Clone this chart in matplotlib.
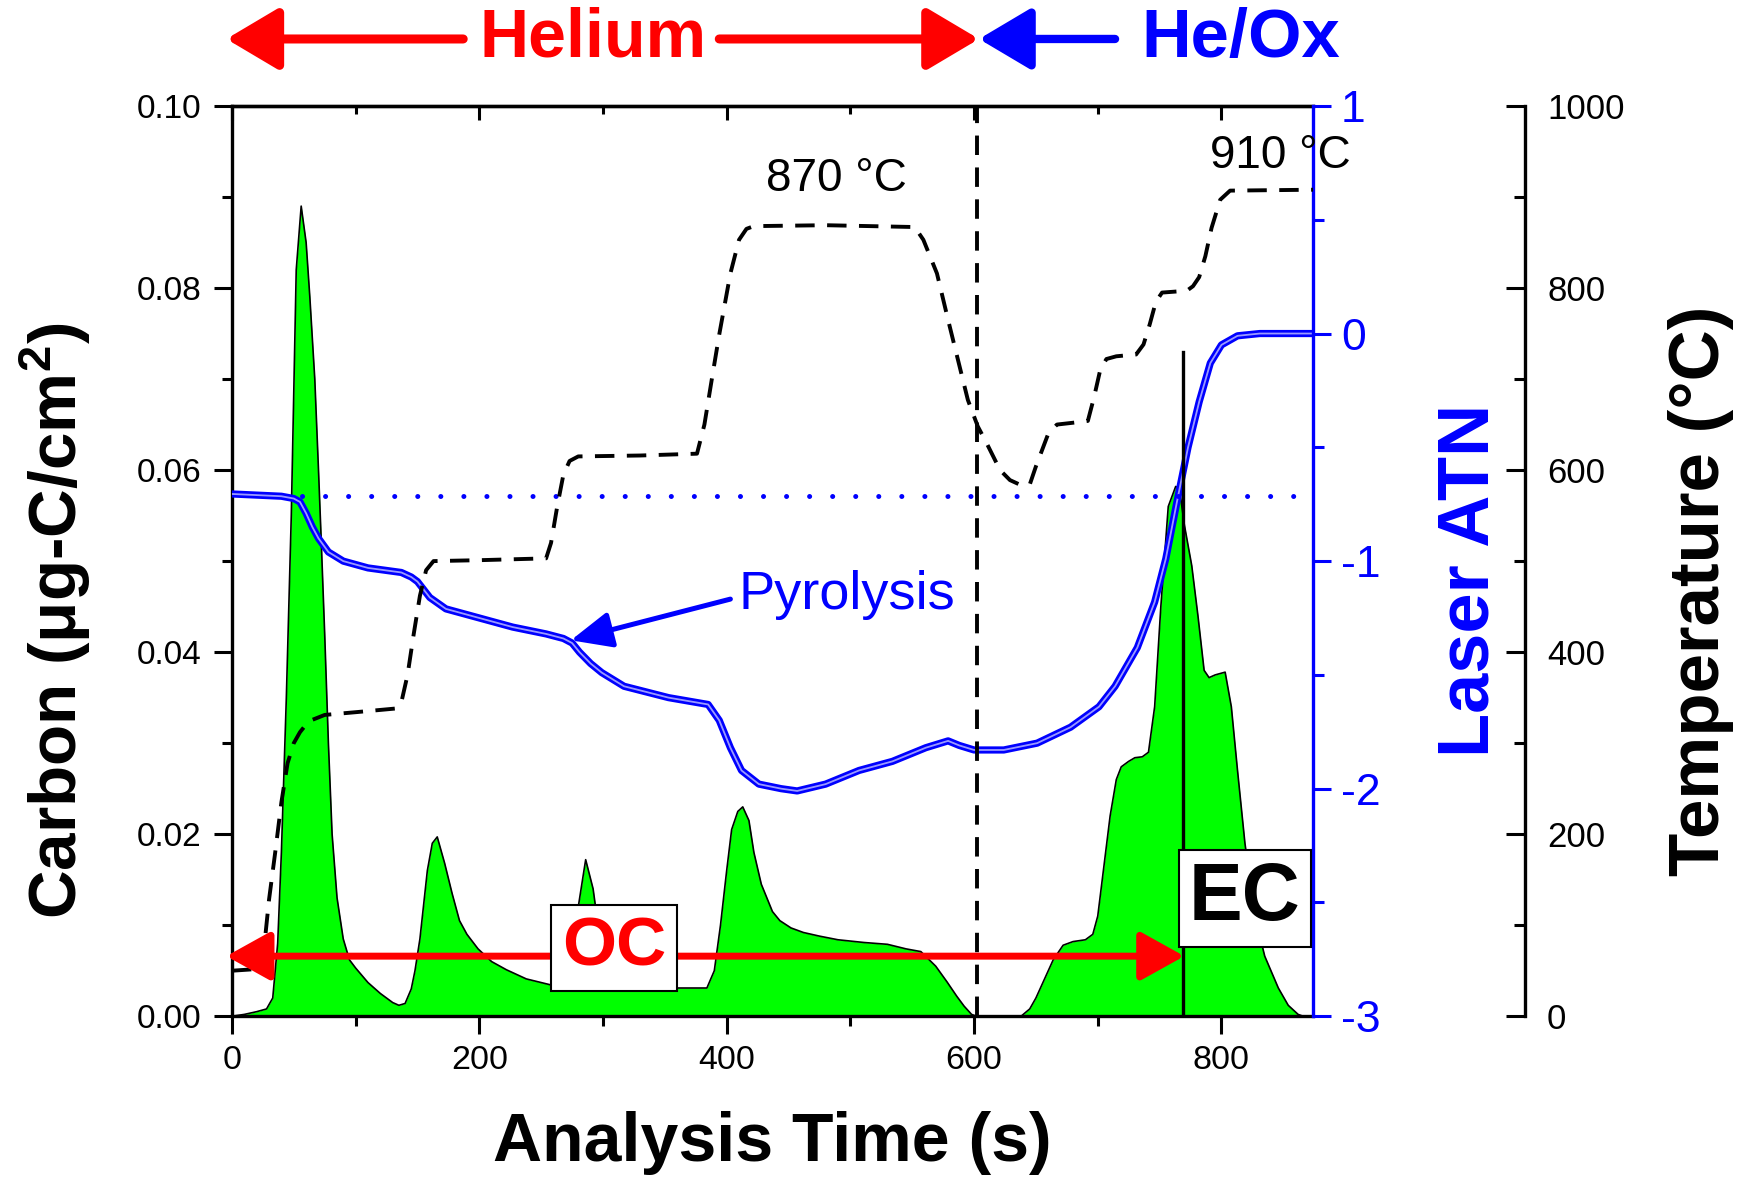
import numpy as np
import matplotlib.pyplot as plt
from matplotlib.ticker import MultipleLocator, FormatStrFormatter

plt.rcParams['font.family'] = 'Liberation Sans'
plt.rcParams['mathtext.fontset'] = 'custom'
plt.rcParams['mathtext.rm'] = 'Liberation Sans'
plt.rcParams['mathtext.bf'] = 'Liberation Sans:bold'
plt.rcParams['axes.unicode_minus'] = False

# FID carbon signal (ug-C/cm2) vs analysis time (s)
time_c = [0, 10, 20, 28, 33, 37, 40, 44, 48, 52, 56, 60, 63, 67, 70, 72, 75, 78, 81, 85,
          90, 95, 100, 110, 120, 130, 135, 140, 145, 148, 152, 158, 162, 166, 172, 178, 184,
          190, 199, 210, 222, 238, 259, 270, 276, 280, 286, 292, 298, 305, 330, 360, 384,
          390, 395, 400, 404, 409, 413, 418, 422, 428, 437, 443, 452, 462, 475, 490, 511,
          530, 545, 557, 569, 578, 586, 592, 598, 602, 638, 645, 650, 656, 664, 672, 680,
          690, 696, 700, 705, 710, 715, 719, 725, 730, 736, 741, 746, 751, 757, 763, 766,
          770, 776, 781, 786, 790, 795, 803, 808, 813, 819, 827, 835, 846, 854, 862, 866]
carbon = [0, 0.0002, 0.0005, 0.0008, 0.002, 0.008, 0.018, 0.035, 0.055, 0.082, 0.089,
          0.085, 0.079, 0.070, 0.060, 0.053, 0.042, 0.030, 0.020, 0.013, 0.0085, 0.0062,
          0.0053, 0.0037, 0.0025, 0.0015, 0.0012, 0.0014, 0.003, 0.005, 0.0085, 0.016,
          0.019, 0.0197, 0.0168, 0.0135, 0.0105, 0.009, 0.0074, 0.006, 0.0051, 0.0041,
          0.0034, 0.0035, 0.007, 0.012, 0.0172, 0.014, 0.008, 0.0045, 0.0034, 0.0031,
          0.0031, 0.005, 0.010, 0.016, 0.0205, 0.0225, 0.023, 0.0215, 0.018, 0.0145,
          0.0115, 0.0105, 0.0097, 0.0092, 0.0088, 0.0084, 0.0081, 0.0079, 0.0074, 0.0071,
          0.0055, 0.0038, 0.0022, 0.0011, 0.0002, 0, 0, 0.0008, 0.002, 0.0038, 0.0062,
          0.0078, 0.0082, 0.0084, 0.009, 0.011, 0.0165, 0.022, 0.026, 0.0274, 0.028,
          0.0284, 0.0285, 0.029, 0.034, 0.045, 0.056, 0.0582, 0.058, 0.054, 0.0495, 0.044,
          0.038, 0.0372, 0.0375, 0.0378, 0.034, 0.027, 0.019, 0.011, 0.0066, 0.0031,
          0.0012, 0.0002, 0]

# laser attenuation
time_atn = [0, 20, 40, 50, 55, 60, 65, 70, 78, 90, 110, 137, 145, 150, 160, 173, 200,
            227, 254, 268, 275, 281, 290, 299, 317, 353, 385, 394, 403, 412, 426, 444,
            457, 480, 507, 534, 561, 579, 588, 600, 624, 651, 678, 701, 714, 732, 746,
            755, 764, 773, 782, 791, 800, 813, 831, 874]
atn = [-0.705, -0.71, -0.715, -0.725, -0.74, -0.79, -0.85, -0.9, -0.96, -1.0, -1.03,
       -1.05, -1.07, -1.09, -1.16, -1.21, -1.25, -1.29, -1.32, -1.34, -1.36, -1.40,
       -1.45, -1.49, -1.55, -1.60, -1.63, -1.70, -1.82, -1.92, -1.98, -2.0, -2.01,
       -1.98, -1.92, -1.88, -1.82, -1.79, -1.81, -1.83, -1.83, -1.80, -1.73, -1.64,
       -1.55, -1.38, -1.18, -0.99, -0.74, -0.50, -0.30, -0.13, -0.05, -0.01, 0.0, 0.0]
atn_initial = -0.716
atn_line_span = [57, 860]

# oven temperature
time_temp = [0, 22, 26, 30, 35, 40, 45, 50, 55, 62, 75, 100, 132, 137, 142, 147, 152,
             157, 163, 200, 254, 258, 263, 268, 273, 280, 330, 376, 382, 388, 394, 403,
             410, 416, 422, 480, 552, 559, 570, 579, 587, 595, 603, 610, 621, 629, 637,
             645, 650, 655, 660, 667, 680, 692, 697, 702, 707, 715, 731, 737, 742, 747,
             752, 772, 777, 782, 787, 792, 799, 807, 875]
temperature = [50, 52, 75, 128, 180, 235, 278, 300, 312, 324, 331, 334, 338, 345, 375,
               420, 462, 490, 500, 501, 503, 520, 560, 595, 610, 615, 616, 618, 650, 700,
               749, 816, 853, 865, 868, 869, 867, 853, 816, 765, 721, 677, 648, 630, 600,
               589, 584, 584, 604, 622, 640, 650, 652, 654, 680, 710, 722, 725, 727, 738,
               760, 785, 795, 797, 802, 812, 835, 866, 897, 907, 908]

he_ox_switch = 602
ec_split = 769
ec_split_top = 0.073

fig = plt.figure(figsize=(17.49, 11.84), dpi=100)
ax = fig.add_axes([0.1326, 0.1417, 0.6181, 0.7688])
ax2 = ax.twinx()
ax3 = ax.twinx()

# carbon signal
ax.fill_between(time_c, carbon, color='#00ff00', lw=0)
ax.plot(time_c, carbon, color='black', lw=1.2)

# laser ATN (hollow-circle look)
ax2.plot(time_atn, atn, color='blue', lw=5.2, solid_capstyle='round')
ax2.plot(time_atn, atn, color='#9a9aff', lw=1.3)
ax2.plot(atn_line_span, [atn_initial, atn_initial], color='blue', lw=3.6,
         ls=(0, (0.01, 4.6)), dash_capstyle='round')

# temperature
dash = (0, (5, 3.2))
ax3.plot(time_temp, temperature, color='black', lw=2.8, ls=dash)
ax3.axvline(he_ox_switch, color='black', lw=2.8, ls=dash)
ax3.plot([ec_split, ec_split], [0, ec_split_top], color='black', lw=2.4,
         transform=ax.transData)

ax.set_xlim(0, 874)
ax.set_ylim(0, 0.1)
ax2.set_ylim(-3, 1)
ax3.set_ylim(0, 1000)

# spines
for s in ['left', 'bottom', 'top']:
    ax.spines[s].set_linewidth(2.4)
ax.spines['right'].set_visible(False)
for a in [ax2, ax3]:
    for s in ['left', 'bottom', 'top']:
        a.spines[s].set_visible(False)
ax2.spines['right'].set_color('blue')
ax2.spines['right'].set_linewidth(2.4)
ax3.spines['right'].set_position(('axes', 1.196))
ax3.spines['right'].set_linewidth(2.4)

# ticks
ax.xaxis.set_major_locator(MultipleLocator(200))
ax.xaxis.set_minor_locator(MultipleLocator(100))
ax.yaxis.set_major_locator(MultipleLocator(0.02))
ax.yaxis.set_minor_locator(MultipleLocator(0.01))
ax.yaxis.set_major_formatter(FormatStrFormatter('%.2f'))
ax.tick_params(which='major', direction='out', length=13, width=2.2)
ax.tick_params(which='minor', direction='out', length=7, width=2.2)
ax.tick_params(axis='x', pad=8, labelsize=24.5)
ax.tick_params(axis='y', pad=9, labelsize=24)

top = ax.secondary_xaxis('top')
top.xaxis.set_major_locator(MultipleLocator(200))
top.xaxis.set_minor_locator(MultipleLocator(100))
top.tick_params(which='major', direction='in', length=10, width=2.2, labeltop=False)
top.tick_params(which='minor', direction='in', length=6, width=2.2)
top.spines['top'].set_linewidth(2.4)

ax2.yaxis.set_major_locator(MultipleLocator(1))
ax2.yaxis.set_minor_locator(MultipleLocator(0.5))
ax2.yaxis.set_major_formatter(FormatStrFormatter('%d'))
ax2.tick_params(which='major', colors='blue', length=13, width=2.2, labelsize=32, pad=7)
ax2.tick_params(which='minor', colors='blue', length=8, width=2.2)

ax3.yaxis.set_major_locator(MultipleLocator(200))
ax3.yaxis.set_minor_locator(MultipleLocator(100))
ax3.tick_params(which='major', direction='in', length=14, width=2.2, labelsize=25, pad=16)
ax3.tick_params(which='minor', direction='in', length=8, width=2.2)

# axis labels
ax.text(0.4995, -0.139, 'Analysis Time (s)', transform=ax.transAxes, ha='center',
        va='center', fontsize=49, fontweight='bold')
ax.text(-0.163, 0.434, r'Carbon (μg-C/cm$\mathbf{^2}$)', transform=ax.transAxes,
        rotation=90, ha='center', va='center', fontsize=48.5, fontweight='bold')
ax3.text(1.145, 0.479, 'Laser ATN', transform=ax.transAxes, rotation=90, ha='center',
         va='center', fontsize=52, fontweight='bold', color='blue')
ax3.text(1.359, 0.467, 'Temperature (°C)', transform=ax.transAxes, rotation=90,
         ha='center', va='center', fontsize=51, fontweight='bold')

# annotations
ax3.text(489, 0.0920, '870 °C', transform=ax.transData, ha='center', va='center',
         fontsize=33)
ax3.text(791, 0.0945, '910 °C', transform=ax.transData, ha='left', va='center',
         fontsize=33)
ax3.annotate('', xy=(274, -1.348), xytext=(403, -1.167), xycoords=ax2.transData,
             textcoords=ax2.transData,
             arrowprops=dict(arrowstyle='-|>,head_length=2.5,head_width=1.1',
                             mutation_scale=10, color='blue', lw=3.6,
                             shrinkA=0, shrinkB=0))
ax3.text(409.5, -1.147, 'Pyrolysis', transform=ax2.transData, ha='left', va='center',
         fontsize=39, color='blue')

# gas phase arrows above the plot
xt = ax.get_xaxis_transform()
red_head = '-|>,head_length=3.2,head_width=1.9'
ax3.annotate('', xy=(-4.5, 1.0736), xytext=(187, 1.0736), xycoords=xt, textcoords=xt,
             annotation_clip=False,
             arrowprops=dict(arrowstyle=red_head, mutation_scale=10, color='red',
                             lw=6.5, shrinkA=0, shrinkB=0, capstyle='round'))
ax3.annotate('', xy=(604, 1.0736), xytext=(394, 1.0736), xycoords=xt, textcoords=xt,
             annotation_clip=False,
             arrowprops=dict(arrowstyle=red_head, mutation_scale=10, color='red',
                             lw=6.5, shrinkA=0, shrinkB=0, capstyle='round'))
ax3.annotate('', xy=(604, 1.0736), xytext=(714, 1.0736), xycoords=xt, textcoords=xt,
             annotation_clip=False,
             arrowprops=dict(arrowstyle=red_head, mutation_scale=10, color='blue',
                             lw=6, shrinkA=0, shrinkB=0, capstyle='round'))
ax3.text(292, 1.0736, 'Helium', transform=xt, ha='center', va='center', fontsize=49,
         fontweight='bold', color='red')
ax3.text(816, 1.0736, 'He/Ox', transform=xt, ha='center', va='center', fontsize=49.5,
         fontweight='bold', color='blue')

# OC / EC split
ax3.annotate('', xy=(-4.5, 0.0066), xytext=(770, 0.0066), xycoords=ax.transData,
             textcoords=ax.transData, annotation_clip=False,
             arrowprops=dict(arrowstyle='<|-|>,head_length=2.7,head_width=1.5',
                             mutation_scale=10, color='red', lw=5,
                             shrinkA=0, shrinkB=0))
ax3.text(309, 0.0075, 'OC', transform=ax.transData, ha='center', va='center',
         fontsize=50, fontweight='bold', color='red', zorder=5,
         bbox=dict(boxstyle='square,pad=0.16', fc='white', ec='black', lw=1.5))
ax3.text(819, 0.0129, 'EC', transform=ax.transData, ha='center', va='center',
         fontsize=58, fontweight='bold', color='black', zorder=5,
         bbox=dict(boxstyle='square,pad=0.13', fc='white', ec='black', lw=1.5))

fig.savefig('out.png', dpi=100)
